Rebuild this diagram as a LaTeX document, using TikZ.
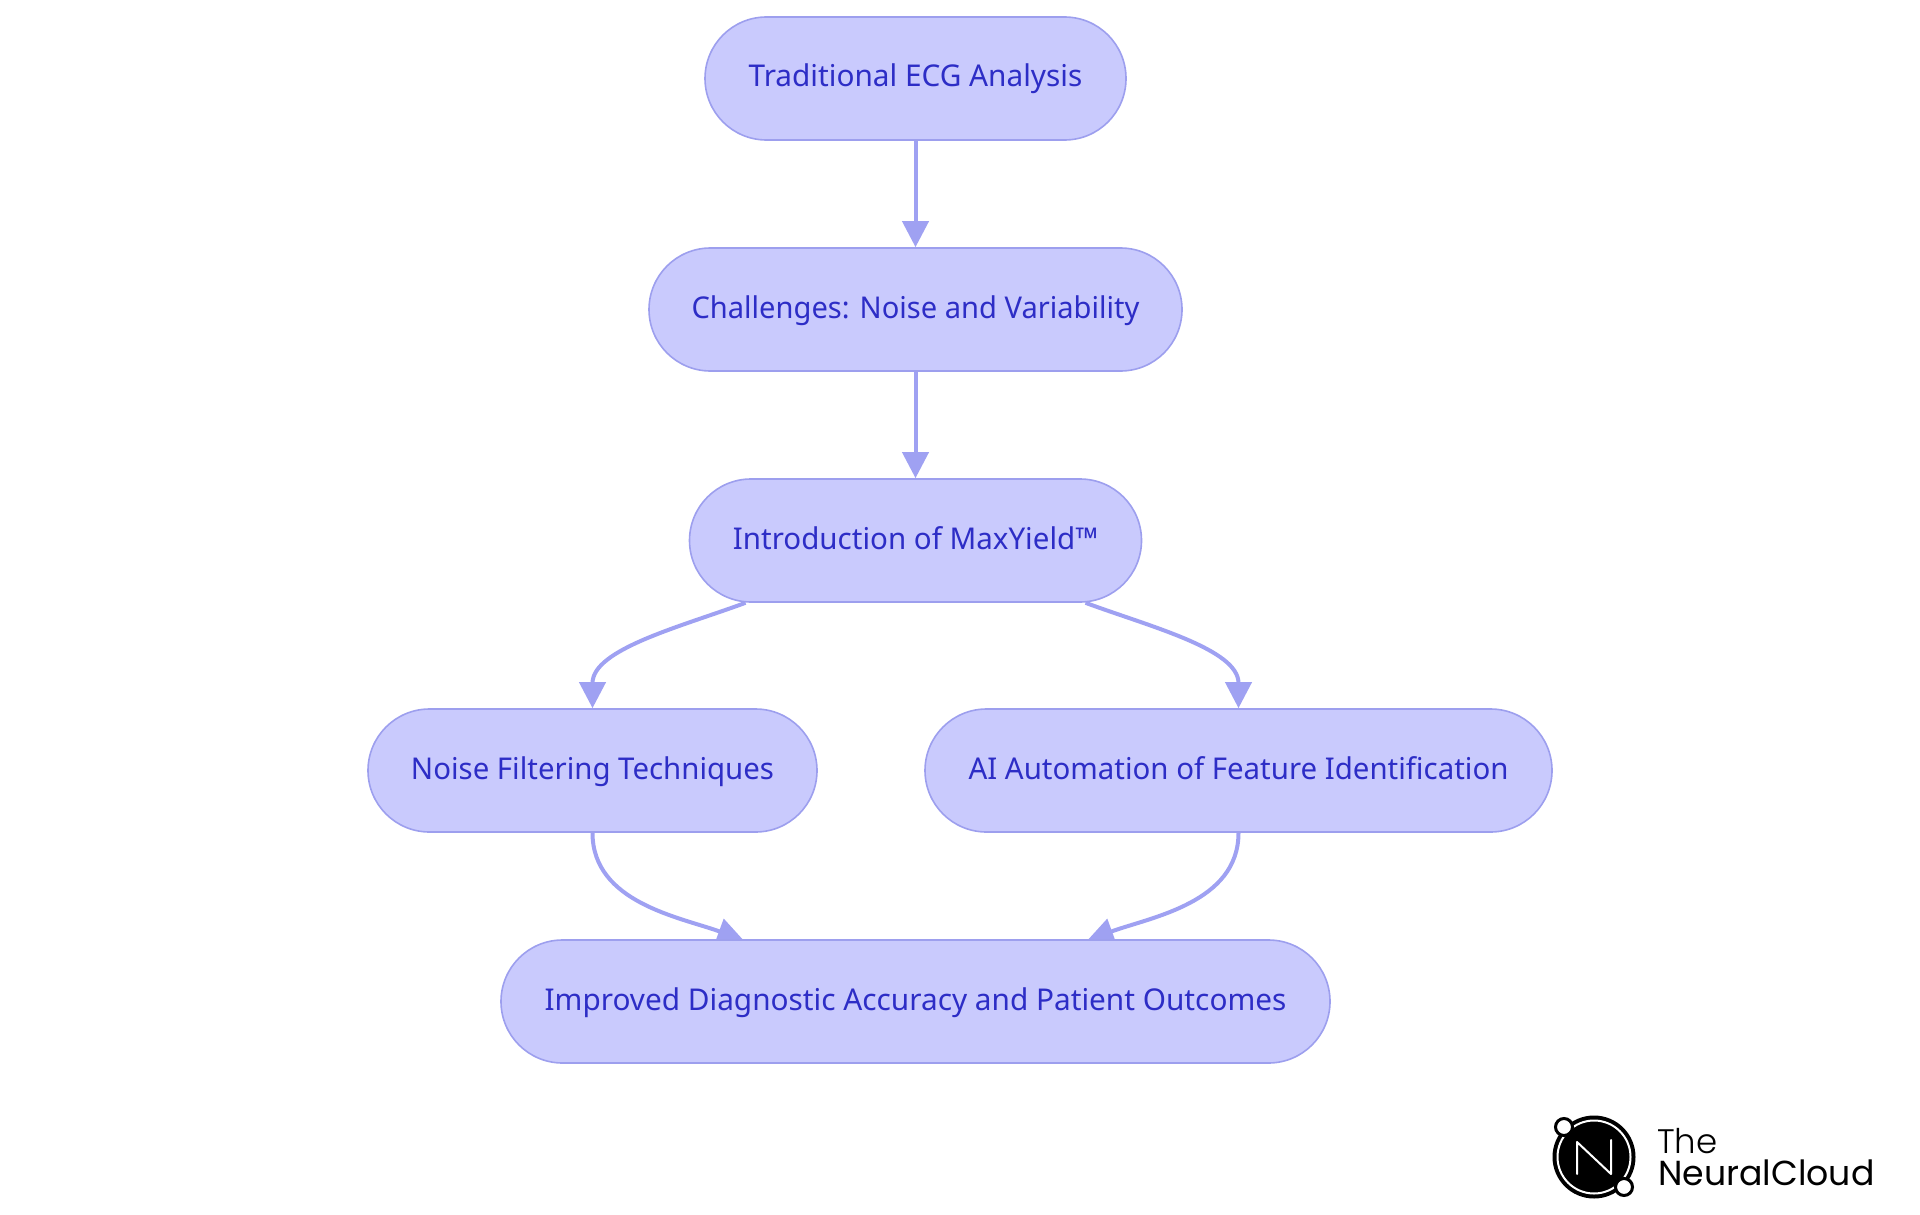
\documentclass[tikz,border=0pt]{standalone}
\usepackage{fontspec}
\setmainfont{Noto Sans}
\newfontfamily\logolight{Poppins Light}
\newfontfamily\logoreg{Poppins}
\usetikzlibrary{arrows.meta,backgrounds,calc,shapes.misc}
\definecolor{nfill}{HTML}{C9CAFD}
\definecolor{nline}{HTML}{9D9FEE}
\definecolor{ntext}{HTML}{2D2DC6}
\definecolor{edgec}{HTML}{9FA1F2}
\newcommand{\nlbl}[2]{\smash{\raisebox{-8.5pt}{\scalebox{#1}[1]{#2}}}}
\tikzset{
  x=1pt,y=-1pt,
  pill/.style={draw=nline,fill=nfill,line width=1.6pt,rounded rectangle,minimum height=123pt,inner sep=0pt,text=ntext,font=\fontsize{30}{34}\selectfont},
  edge/.style={draw=edgec,line width=4pt,-{Triangle[length=26pt,width=26pt]}},
  logotxt/.style={anchor=base west,inner sep=0pt}
}
\begin{document}
\begin{tikzpicture}
\useasboundingbox (0,0) rectangle (1920,1215);
\node[pill,minimum width=421pt] (n1) at (915.5,78.5) {\nlbl{0.992}{Traditional ECG Analysis}};
\node[pill,minimum width=533pt] (n2) at (915.5,309.5) {\nlbl{0.970}{Challenges: Noise and Variability}};
\node[pill,minimum width=452pt] (n3) at (915.5,540.5) {\nlbl{0.984}{Introduction of MaxYield™}};
\node[pill,minimum width=449pt] (n4) at (592.5,770.5) {\nlbl{0.980}{Noise Filtering Techniques}};
\node[pill,minimum width=627pt] (n5) at (1238.5,770.5) {\nlbl{0.981}{AI Automation of Feature Identification}};
\node[pill,minimum width=829pt] (n6) at (915.5,1001.5) {\nlbl{0.992}{Improved Diagnostic Accuracy and Patient Outcomes}};
\begin{scope}[on background layer]
\draw[edge] (n1.south) -- (n2.north);
\draw[edge] (n2.south) -- (n3.north);
\draw[edge] ($(n3.south)+(-170,0)$) .. controls ($(n3.south)+(-235,24)$) and ($(n4.north)+(0,-59)$) .. (n4.north);
\draw[edge] ($(n3.south)+(170,0)$) .. controls ($(n3.south)+(235,24)$) and ($(n5.north)+(0,-59)$) .. (n5.north);
\draw[edge] (n4.south) .. controls ($(n4.south)+(0,70)$) and ($(n6.north)+(-235,-22)$) .. ($(n6.north)+(-172,1)$);
\draw[edge] (n5.south) .. controls ($(n5.south)+(0,70)$) and ($(n6.north)+(235,-22)$) .. ($(n6.north)+(172,1)$);
\end{scope}
% logo
\fill[black] (1594,1157) circle (41.5);
\draw[white,line width=2pt] (1594,1157) circle (36.5);
\node[circle,draw=black,fill=white,line width=3pt,minimum size=17pt,inner sep=0pt] (o1) at (1564,1127) {};
\node[circle,draw=black,fill=white,line width=3pt,minimum size=17pt,inner sep=0pt] (o2) at (1624,1187) {};
\draw[white,line width=2pt,line cap=round,line join=round] (1577,1174) -- (1577,1142) -- (1611,1174) -- (1611,1140);
\node[logotxt,font=\logolight\fontsize{34}{34}\selectfont] (t1) at (1657,1153) {The};
\node[logotxt,font=\logoreg\fontsize{34.7}{34}\selectfont] (t2) at (1658,1185) {NeuralCloud};
\end{tikzpicture}
\end{document}
